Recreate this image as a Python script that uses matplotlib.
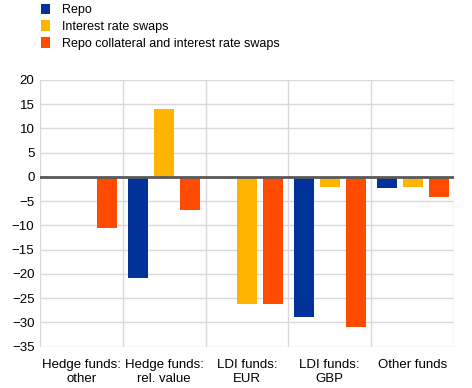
import matplotlib.pyplot as plt
import numpy as np

plt.rcParams['font.family'] = ['Liberation Sans', 'DejaVu Sans']

# Data
categories = ["Hedge funds:\nother", "Hedge funds:\nrel. value", "LDI funds:\nEUR",
              "LDI funds:\nGBP", "Other funds"]
repo = [0, -20.8, 0, -28.8, -2.2]
swaps = [0, 14.0, -26.3, -2.0, -2.0]
repo_coll_swaps = [-10.5, -6.8, -26.3, -30.9, -4.1]

series = [
    ("Repo", repo, "#003299"),
    ("Interest rate swaps", swaps, "#FFB400"),
    ("Repo collateral and interest rate swaps", repo_coll_swaps, "#FF4B00"),
]

fig = plt.figure(figsize=(4.72, 3.88), dpi=100)
ax = fig.add_axes([0.0847, 0.1065, 0.877, 0.6875])

x = np.arange(len(categories))
offsets = [-0.314, 0, 0.314]
width = 0.242
handles = []
for (name, vals, color), off in zip(series, offsets):
    h = ax.bar(x + off, vals, width, color=color, label=name, zorder=3)
    handles.append(h)

ax.set_xlim(-0.5, len(categories) - 0.5)
ax.set_ylim(-35, 20)
ax.set_yticks(np.arange(-35, 21, 5))

# grid: horizontal lines and vertical category separators
for y in np.arange(-35, 21, 5):
    ax.axhline(y, color="#d9d9d9", lw=1, zorder=1)
for b in np.arange(-0.5, len(categories), 1):
    ax.axvline(b, color="#d9d9d9", lw=1, zorder=1)
ax.axhline(0, color="#595959", lw=2, zorder=4)

for s in ax.spines.values():
    s.set_visible(False)

ax.set_xticks(x)
ax.set_xticklabels(categories, fontsize=9.5, linespacing=1.15)
ax.tick_params(axis="both", length=0, labelsize=9.5, colors="black")
ax.tick_params(axis="x", pad=9)
ax.tick_params(axis="y", pad=4)

fig.legend(handles=handles, loc="upper left", bbox_to_anchor=(0.07, 1.01),
           frameon=False, fontsize=9, handlelength=0.75, handleheight=0.9,
           handletextpad=1.0, labelspacing=0.35, borderaxespad=0.2)

fig.savefig("out.png", dpi=100)
